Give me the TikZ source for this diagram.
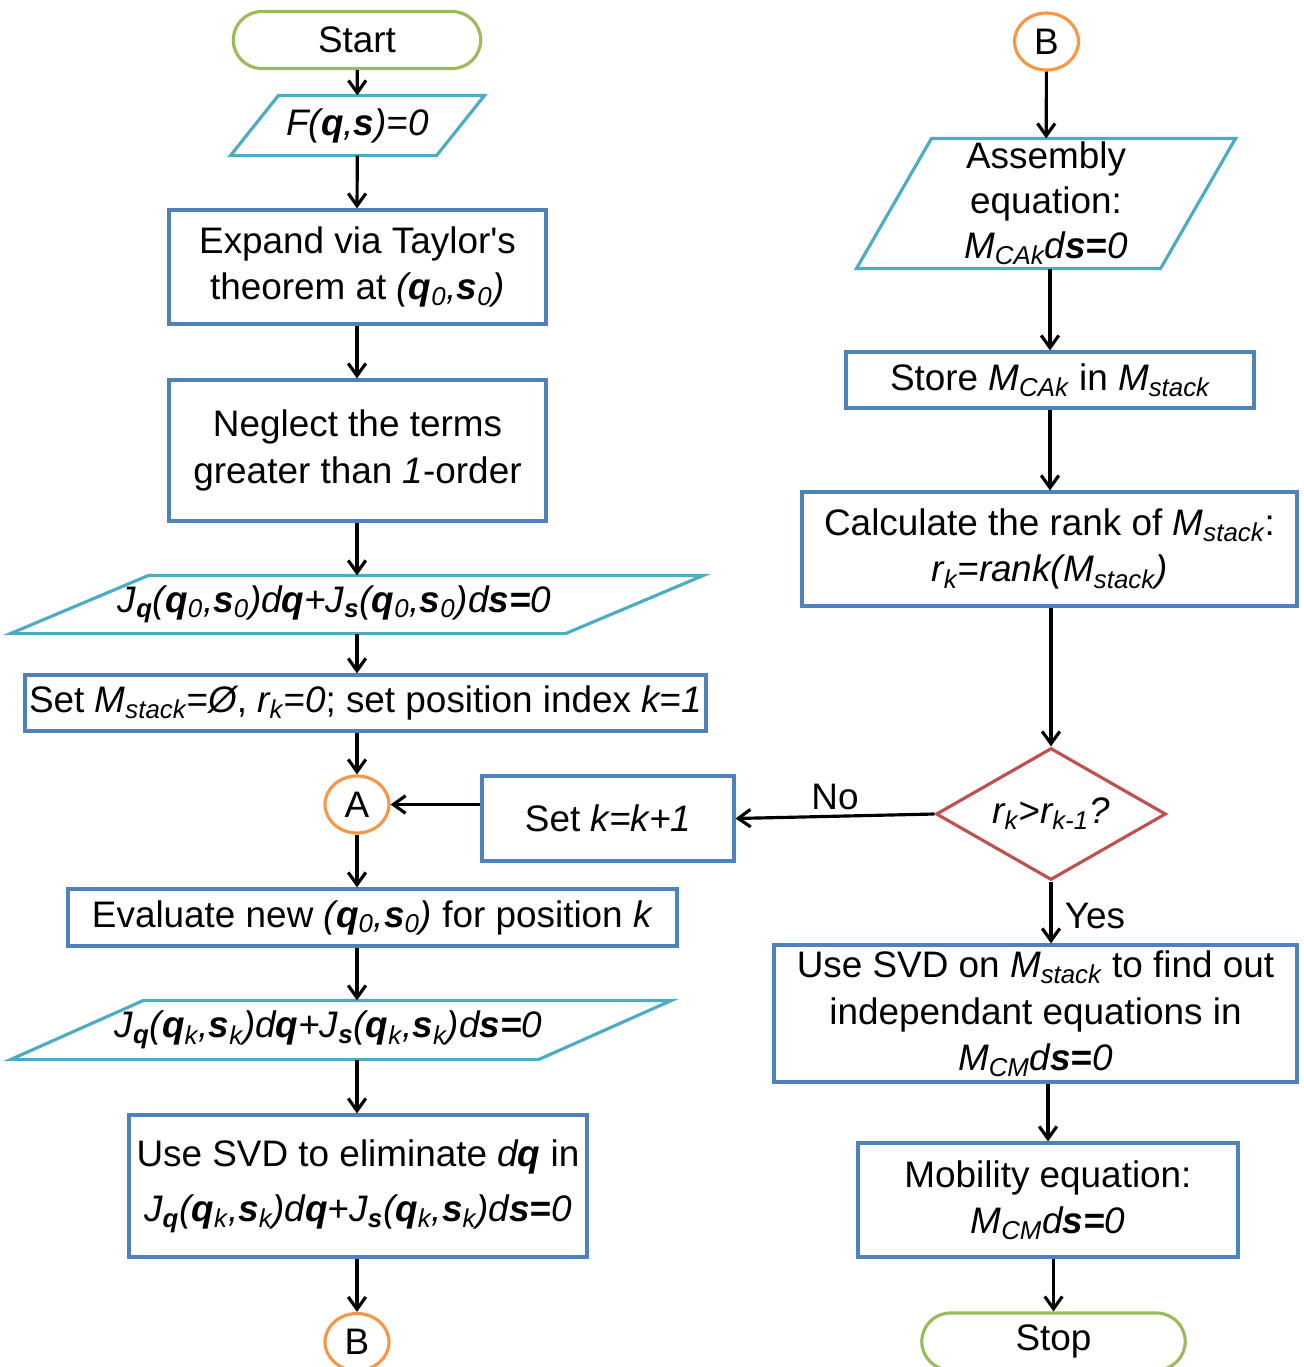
\documentclass[tikz,border=0pt]{standalone}
\usepackage{fontspec}
\setmainfont{Liberation Sans}
\definecolor{boxblue}{RGB}{79, 129, 189}
\definecolor{ioteal}{RGB}{75, 172, 198}
\definecolor{linkorange}{RGB}{247, 150, 70}
\definecolor{termgreen}{RGB}{155, 187, 89}
\definecolor{testred}{RGB}{192, 80, 77}
\usetikzlibrary{shapes.geometric, shapes.misc, arrows.meta, positioning, calc}

\newcommand{\qv}{\textbf{q}}
\newcommand{\sv}{\textbf{s}}
% slanted frame round a data node: name, slant
\newcommand{\ioframe}[2]{\draw[draw=ioteal] (#1.south west) -- ([xshift=#2]#1.north west)
  -- (#1.north east) -- ([xshift=-#2]#1.south east) -- cycle;}

\tikzset{
  every node/.style={font=\fontsize{21}{26.5}\selectfont, inner sep=1pt},
  procbox/.style={draw=boxblue, rectangle, align=center},
  iobox/.style={rectangle, align=center},
  linkcirc/.style={draw=linkorange, ellipse, minimum width=1.28cm, minimum height=1.14cm},
  termbox/.style={draw=termgreen, rounded rectangle, minimum height=1.14cm},
  testbox/.style={draw=testred, diamond, aspect=1.74, minimum width=4.6cm, minimum height=2.64cm},
  flow/.style={-{Straight Barb[length=7pt, width=10pt]}}
}

\begin{document}
\begin{tikzpicture}[x=0.02cm, y=-0.02cm, line width=1.8pt]
  \useasboundingbox (0,0) rectangle (1303,1367);

  % left column
  \node[termbox, minimum width=5.02cm] (start) at (357,40) {Start};
  \node[iobox, minimum width=5.02cm, minimum height=1.14cm] (fqs) at (357.5,125.5)
    {\itshape F(\qv,\sv)=0};
  \ioframe{fqs}{0.96cm}
  \node[procbox, minimum width=7.54cm, minimum height=2.28cm] (expand) at (357.5,267)
    {Expand via Taylor\textquotesingle s\\theorem at \textit{(\qv\textsubscript{0},\sv\textsubscript{0})}};
  \node[procbox, minimum width=7.54cm, minimum height=2.82cm] (neglect) at (357.5,450.5)
    {Neglect the terms\\greater than \textit{1}-order};
  \node[iobox, minimum width=13.8cm, minimum height=1.1cm] (jzero) at (357,604.5)
    {\itshape J\textsubscript{\qv}(\qv\textsubscript{0},\sv\textsubscript{0})d\qv+J\textsubscript{\sv}(\qv\textsubscript{0},\sv\textsubscript{0})d\textbf{s=}0\hspace*{0.9cm}};
  \ioframe{jzero}{2.76cm}
  \node[procbox, minimum width=13.62cm, minimum height=1.12cm] (setm) at (365.5,703)
    {Set \textit{M\textsubscript{stack}}=\textit{Ø}, \textit{r\textsubscript{k}=0}; set position index \textit{k=1}};
  \node[linkcirc] (conna) at (357,804.5) {A};
  \node[procbox, minimum width=5.04cm, minimum height=1.7cm] (setk) at (608,818.5)
    {Set \textit{k=k+1}};
  \node[procbox, minimum width=12.18cm, minimum height=1.14cm] (evalnew) at (372.5,917.5)
    {Evaluate new \textit{(\qv\textsubscript{0},\sv\textsubscript{0})} for position \textit{k}};
  \node[iobox, minimum width=13.16cm, minimum height=1.12cm] (jk) at (341,1030)
    {\itshape J\textsubscript{\qv}(\qv\textsubscript{k},\sv\textsubscript{k})d\qv+J\textsubscript{\sv}(\qv\textsubscript{k},\sv\textsubscript{k})d\textbf{s=}0\hspace*{0.5cm}};
  \ioframe{jk}{2.66cm}
  \node[procbox, minimum width=9.16cm, minimum height=2.84cm, font=\fontsize{21}{31.5}\selectfont] (svdq) at (358,1186)
    {Use SVD to eliminate \textit{d\qv} in\\
     \itshape J\textsubscript{\qv}(\qv\textsubscript{k},\sv\textsubscript{k})d\qv+J\textsubscript{\sv}(\qv\textsubscript{k},\sv\textsubscript{k})d\textbf{s=}0};
  \node[linkcirc] (connbout) at (357,1342) {B};

  % right column
  \node[linkcirc] (connbin) at (1046.5,41.5) {B};
  \node[iobox, minimum width=7.52cm, minimum height=2.54cm, font=\fontsize{21}{25.5}\selectfont] (assembly) at (1046,203.5)
    {Assembly\\equation:\\\textit{M\textsubscript{CAk}d\textbf{s=}0}};
  \ioframe{assembly}{1.5cm}
  \node[procbox, minimum width=8.16cm, minimum height=1.12cm] (store) at (1050,380)
    {Store \textit{M\textsubscript{CAk}} in \textit{M\textsubscript{stack}}};
  \node[procbox, minimum width=9.9cm, minimum height=2.28cm] (rank) at (1049.5,549)
    {Calculate the rank of \textit{M\textsubscript{stack}}:\\\textit{r\textsubscript{k}=rank(M\textsubscript{stack})}};
  \node[testbox] (check) at (1051,814) {\itshape r\textsubscript{k}>r\textsubscript{k-1}?};
  \node[procbox, minimum width=10.46cm, minimum height=2.74cm] (svdm) at (1035.5,1013.5)
    {Use SVD on \textit{M\textsubscript{stack}} to find out\\independant equations in\\\textit{M\textsubscript{CM}d\textbf{s=}0}};
  \node[procbox, minimum width=7.6cm, minimum height=2.28cm] (mobility) at (1048,1200)
    {Mobility equation:\\\textit{M\textsubscript{CM}d\textbf{s=}0}};
  \node[termbox, minimum width=5.34cm] (stop) at (1053.5,1341.5) {Stop};

  % connectors
  \draw[flow] (start) -- (fqs);
  \draw[flow] (fqs) -- (start |- expand.north);
  \draw[flow] (start |- expand.south) -- (start |- neglect.north);
  \draw[flow] (start |- neglect.south) -- (start |- jzero.north);
  \draw[flow] (start |- jzero.south) -- (start |- setm.north);
  \draw[flow] (start |- setm.south) -- (conna);
  \draw[flow] (setk.west |- conna.east) -- (conna.east);
  \draw[flow] (conna) -- (start |- evalnew.north);
  \draw[flow] (start |- evalnew.south) -- (start |- jk.north);
  \draw[flow] (start |- jk.south) -- (start |- svdq.north);
  \draw[flow] (start |- svdq.south) -- (connbout);

  \draw[flow] (connbin) -- (assembly);
  \draw[flow] (store.north |- assembly.south) -- (store.north);
  \draw[flow] (store.south) -- (store.south |- rank.north);
  \draw[flow] (check.north |- rank.south) -- (check.north);
  \draw[flow] (check.west) -- node[midway, above, yshift=2pt] (nolbl) {No} (setk.east);
  \draw[flow] (check.south) -- node[midway, right, xshift=6pt, yshift=-2pt] (yeslbl) {Yes} (check.south |- svdm.north);
  \draw[flow] (mobility.north |- svdm.south) -- (mobility.north);
  \draw[flow] (stop.north |- mobility.south) -- (stop.north);
\end{tikzpicture}
\end{document}
